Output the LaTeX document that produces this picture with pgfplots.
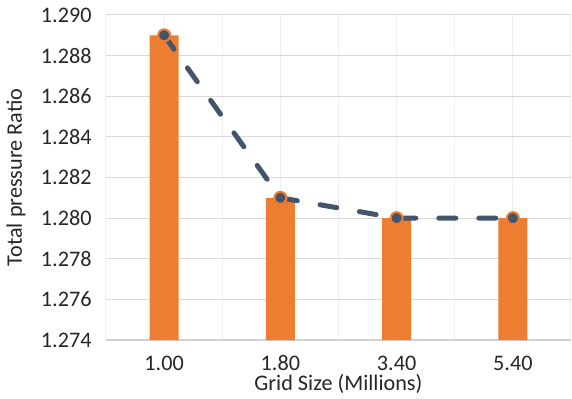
\documentclass[border=0pt]{standalone}
\usepackage{pgfplots}
\pgfplotsset{compat=1.18}
\usepackage{fontspec}
\setmainfont{Carlito}

\definecolor{barorange}{HTML}{ED7D31}
\definecolor{slate}{HTML}{44546A}
\definecolor{hgrid}{HTML}{D9D9D9}
\definecolor{vgrid}{HTML}{EFEFEF}
\definecolor{axisgray}{HTML}{D0D0D0}
\definecolor{labeltext}{HTML}{262626}

\begin{document}
\begin{tikzpicture}
\begin{axis}[
  scale only axis,
  width=232.5pt, height=162.5pt,
  xmin=-0.5, xmax=3.5,
  ymin=1.274, ymax=1.290,
  xtick={0,1,2,3},
  xticklabels={1.00,1.80,3.40,5.40},
  minor xtick={-0.5,0.5,1.5,2.5,3.5},
  ytick={1.274,1.276,...,1.2905},
  major tick length=0pt, minor tick length=0pt,
  axis lines*=left,
  x axis line style={draw=axisgray, line width=0.6pt},
  y axis line style={draw=vgrid, line width=0.5pt},
  ymajorgrids, xmajorgrids, xminorgrids,
  y grid style={draw=hgrid, line width=0.5pt},
  x grid style={draw=vgrid, line width=0.5pt},
  minor x grid style={draw=vgrid, line width=0.5pt},
  font=\fontsize{11.1}{13}\selectfont,
  tick label style={text=labeltext},
  /pgf/number format/assume math mode=true,
  yticklabel style={/pgf/number format/.cd, fixed, fixed zerofill, precision=3, /tikz/.cd,
    anchor=east, inner sep=0pt, xshift=-7pt},
  xticklabel style={anchor=base, inner sep=0pt, yshift=-15pt},
  xlabel={Grid Size (Millions)},
  ylabel={Total pressure Ratio},
  xlabel style={at={(rel axis cs:0.5,0)}, anchor=base, inner sep=0pt, yshift=-25pt, text=labeltext},
  ylabel style={at={(rel axis cs:0,0.5)}, anchor=center, inner sep=0pt, yshift=45pt, text=labeltext},
]
% mesh-independence bars
\addplot[ybar, bar width=14.5pt, bar shift=0pt, fill=barorange, draw=none]
  coordinates {(0,1.289) (1,1.281) (2,1.280) (3,1.280)};
% same values joined by a dashed trend line
\addplot[slate, line width=2.5pt, line cap=round, dash pattern=on 8.5pt off 11.5pt,
  mark=*, mark size=3pt,
  mark options={solid, fill=slate, draw=barorange, line width=1pt}]
  coordinates {(0,1.289) (1,1.281) (2,1.280) (3,1.280)};
\end{axis}
\path[use as bounding box] (-53pt,-29pt) rectangle (233pt,170pt);
\end{tikzpicture}
\end{document}
